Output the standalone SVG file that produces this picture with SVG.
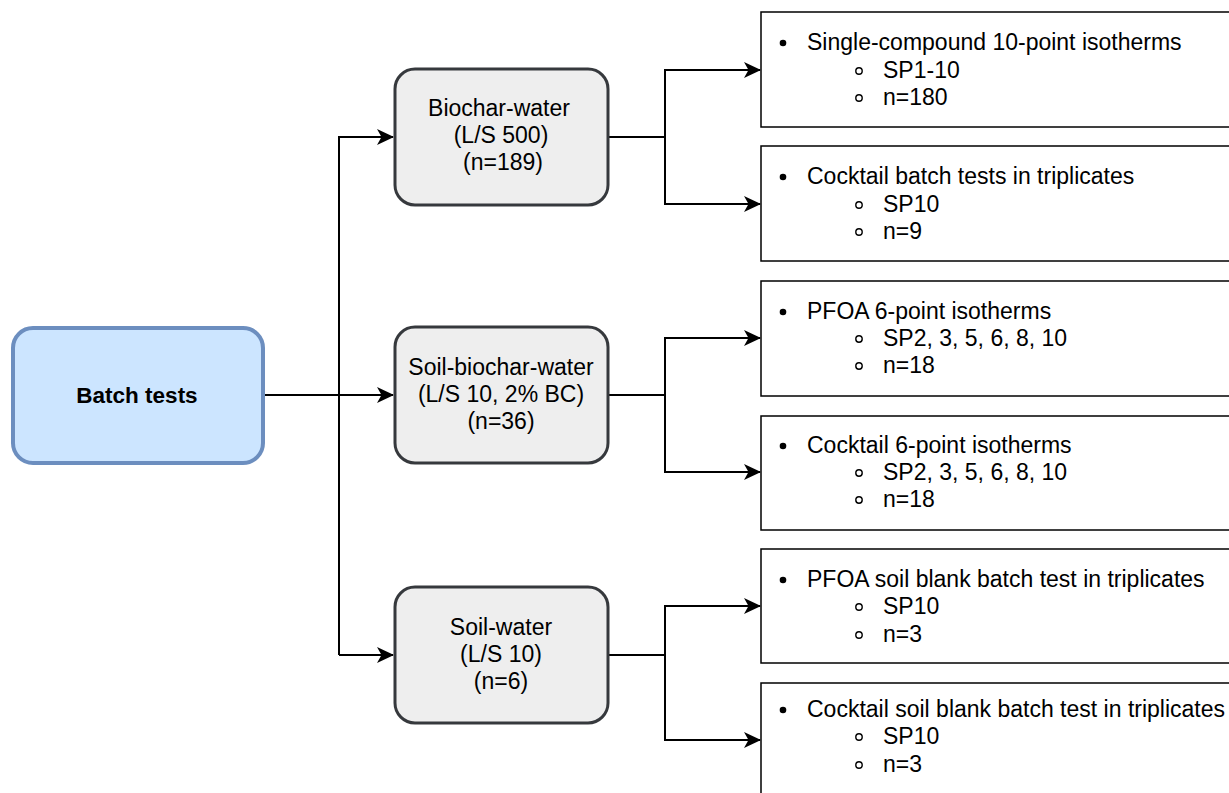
<svg xmlns="http://www.w3.org/2000/svg" width="1229" height="793" viewBox="0 0 1229 793">
<style>
.t{font-family:"Liberation Sans",Arial,sans-serif;font-size:23px;fill:#000}
.c{text-anchor:middle}
.b{font-weight:bold;font-size:22.5px}
.mid{fill:#eeeeee;stroke:#36393d;stroke-width:3}
.rb{fill:#fff;stroke:#000;stroke-width:1.5}
.ln{fill:none;stroke:#000;stroke-width:2}
.ring{fill:none;stroke:#000;stroke-width:1.4}
</style>
<defs>
<marker id="ah" markerUnits="userSpaceOnUse" markerWidth="18" markerHeight="16" refX="16" refY="8" orient="auto">
<path d="M0,0 L17,8 L0,16 L4.5,8 Z" fill="#000"/>
</marker>
</defs>
<rect width="1229" height="793" fill="#fff"/>
<g id="connectors">
<path class="ln" d="M263,395 H393" marker-end="url(#ah)"/>
<path class="ln" d="M339,655 V137 H393" marker-end="url(#ah)"/>
<path class="ln" d="M339,655 H393" marker-end="url(#ah)"/>
<path class="ln" d="M608,137 H665 V70 H760" marker-end="url(#ah)"/>
<path class="ln" d="M665,137 V204 H760" marker-end="url(#ah)"/>
<path class="ln" d="M608,395 H665 V338 H760" marker-end="url(#ah)"/>
<path class="ln" d="M665,395 V472 H760" marker-end="url(#ah)"/>
<path class="ln" d="M608,655 H665 V606 H760" marker-end="url(#ah)"/>
<path class="ln" d="M665,655 V740 H760" marker-end="url(#ah)"/>
</g>
<g id="batch-tests">
<rect x="13" y="328" width="250" height="135" rx="20" fill="#cce5ff" stroke="#6c8ebf" stroke-width="4"/>
<text class="t c b" x="137" y="403">Batch tests</text>
</g>
<g id="biochar-water">
<rect class="mid" x="395" y="69" width="213" height="136" rx="20"/>
<text class="t c" x="499" y="116">Biochar-water</text>
<text class="t c" x="501" y="143">(L/S 500)</text>
<text class="t c" x="503" y="170">(n=189)</text>
</g>
<g id="soil-biochar-water">
<rect class="mid" x="395" y="327" width="213" height="136" rx="20"/>
<text class="t c" x="501" y="375">Soil-biochar-water</text>
<text class="t c" x="501" y="402">(L/S 10, 2% BC)</text>
<text class="t c" x="501" y="429">(n=36)</text>
</g>
<g id="soil-water">
<rect class="mid" x="395" y="587" width="213" height="136" rx="20"/>
<text class="t c" x="501" y="635">Soil-water</text>
<text class="t c" x="501" y="662">(L/S 10)</text>
<text class="t c" x="501" y="689">(n=6)</text>
</g>
<g id="box1">
<rect class="rb" x="761" y="12" width="480" height="115"/>
<circle cx="783" cy="43" r="3.3"/>
<text class="t" x="807" y="50">Single-compound 10-point isotherms</text>
<circle class="ring" cx="859" cy="71" r="3.2"/>
<text class="t" x="883" y="78">SP1-10</text>
<circle class="ring" cx="859" cy="98" r="3.2"/>
<text class="t" x="883" y="105">n=180</text>
</g>
<g id="box2">
<rect class="rb" x="761" y="146" width="480" height="115"/>
<circle cx="783" cy="177" r="3.3"/>
<text class="t" x="807" y="184">Cocktail batch tests in triplicates</text>
<circle class="ring" cx="859" cy="205" r="3.2"/>
<text class="t" x="883" y="212">SP10</text>
<circle class="ring" cx="859" cy="232" r="3.2"/>
<text class="t" x="883" y="239">n=9</text>
</g>
<g id="box3">
<rect class="rb" x="761" y="281" width="480" height="115"/>
<circle cx="783" cy="312" r="3.3"/>
<text class="t" x="807" y="319">PFOA 6-point isotherms</text>
<circle class="ring" cx="859" cy="339" r="3.2"/>
<text class="t" x="883" y="346">SP2, 3, 5, 6, 8, 10</text>
<circle class="ring" cx="859" cy="366" r="3.2"/>
<text class="t" x="883" y="373">n=18</text>
</g>
<g id="box4">
<rect class="rb" x="761" y="416" width="480" height="114"/>
<circle cx="783" cy="446" r="3.3"/>
<text class="t" x="807" y="453">Cocktail 6-point isotherms</text>
<circle class="ring" cx="859" cy="473" r="3.2"/>
<text class="t" x="883" y="480">SP2, 3, 5, 6, 8, 10</text>
<circle class="ring" cx="859" cy="500" r="3.2"/>
<text class="t" x="883" y="507">n=18</text>
</g>
<g id="box5">
<rect class="rb" x="761" y="549" width="480" height="114"/>
<circle cx="783" cy="580" r="3.3"/>
<text class="t" x="807" y="587">PFOA soil blank batch test in triplicates</text>
<circle class="ring" cx="859" cy="607" r="3.2"/>
<text class="t" x="883" y="614">SP10</text>
<circle class="ring" cx="859" cy="635" r="3.2"/>
<text class="t" x="883" y="642">n=3</text>
</g>
<g id="box6">
<rect class="rb" x="761" y="683" width="480" height="120"/>
<circle cx="783" cy="710" r="3.3"/>
<text class="t" x="807" y="717">Cocktail soil blank batch test in triplicates</text>
<circle class="ring" cx="859" cy="737" r="3.2"/>
<text class="t" x="883" y="744">SP10</text>
<circle class="ring" cx="859" cy="765" r="3.2"/>
<text class="t" x="883" y="772">n=3</text>
</g>
</svg>
